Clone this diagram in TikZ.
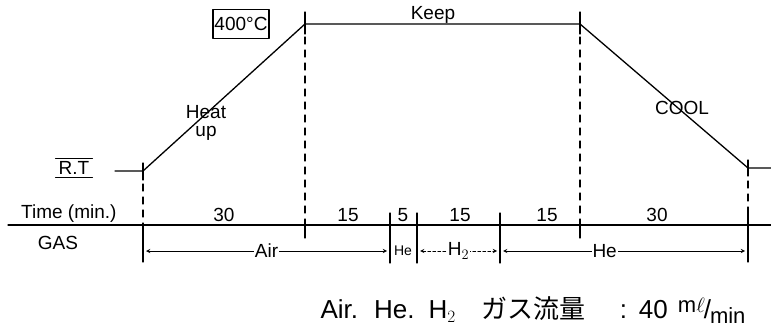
\documentclass[tikz,border=0pt]{standalone}
\usepackage{fontspec}
\setmainfont{Liberation Sans}
\newfontfamily\jpfont{Noto Sans CJK JP}
\usetikzlibrary{positioning}
\begin{document}
\begin{tikzpicture}[x=1pt, y=-1pt, line join=round, line cap=round, >=stealth]
				\useasboundingbox (0,0) rectangle (771,329);
				\tikzset{
					prof/.style={line width=1.3pt},
					guide/.style={line width=1.2pt, dash pattern=on 7pt off 6pt},
					tick/.style={line width=1.3pt},
					lbl/.style={font=\fontsize{19}{21}\selectfont, inner sep=1pt},
					gas/.style={line width=0.9pt, <->},
				}
				
				% Temperaturprofil
				\coordinate (RT0) at (115,171);
				\coordinate (A) at (143,171);
				\coordinate (B) at (305,24);
				\coordinate (C) at (580,24);
				\coordinate (D) at (748,168);
				\coordinate (E) at (771,168);
				\draw[prof] (RT0) -- (A) -- (B) -- (C) -- (D) -- (E);
				
				% Markierungen an den Knickpunkten
				\draw[tick] (143,163) -- (143,180);
				\draw[tick] (305,12) -- (305,34);
				\draw[tick] (580,12) -- (580,34);
				\draw[tick] (748,160) -- (748,176);
				
				% Beschriftungen
				\node[lbl, inner sep=3pt] (rt) at (74,168) {R.T};
				\draw[line width=1pt] (rt.north west) -- (rt.north east);
				\draw[line width=1pt] (rt.south west) -- (rt.south east);
				\node[lbl, draw, line width=1.1pt, minimum width=56pt, minimum height=29pt] (top) at (241,24) {400\textdegree C};
				\node[lbl, align=center, font=\fontsize{19}{18}\selectfont] (heat) at (206,123) {Heat\\up};
				\node[lbl] (keep) at (433,15) {Keep};
				\node[lbl] (cool) at (682,108) {COOL};
				
				% Zeitachse
				\coordinate (T0) at (8,225);
				\coordinate (T1) at (771,225);
				\draw[line width=1.3pt] (T0) -- (T1);
				\node[lbl, anchor=south west] (time) at (20,224) {Time (min.)};
				\node[lbl] (gasl) at (58,243) {GAS};
				
				% senkrechte Linien
				\foreach \x/\y in {143/171, 305/24, 580/24, 748/168}
					\draw[guide] (\x,\y) -- (\x,225);
				\draw[tick] (143,225) -- (143,262);
				\draw[tick] (305,225) -- (305,238);
				\draw[tick] (390,213) -- (390,263);
				\draw[tick] (417,213) -- (417,263);
				\draw[tick] (500,213) -- (500,263);
				\draw[tick] (580,225) -- (580,238);
				\draw[tick] (748,213) -- (748,262);
				
				% Zeiten
				\foreach \x/\t in {224/30, 348/15, 403/5, 460/15, 547/15, 657/30}
					\node[lbl, anchor=south] at (\x,223) {\t};
				
				% Gase
				\draw[gas] (146,251) -- (387,251) node[midway, fill=white, lbl] (air) {Air};
				\node[lbl, font=\fontsize{14}{16}\selectfont] (he1) at (403,251) {He};
				\draw[gas, densely dashed] (420,251) -- (497,251) node[midway, fill=white, lbl] (h2) {H$_2$};
				\draw[gas] (503,251) -- (745,251) node[pos=0.42, fill=white, lbl] (he2) {He};
				
				% Gasdurchfluss
				\node[font=\fontsize{26}{28}\selectfont] (flow) at (533,310)
					{Air.\hspace{16pt}He.\hspace{14pt}H$_2$\hspace{26pt}{\jpfont ガス流量}\hspace{34pt}:\hspace{12pt}40\hspace{10pt}\raisebox{6pt}{\fontsize{22}{24}\selectfont m$\ell$}\kern-1pt/\kern-1pt\raisebox{-5pt}{\fontsize{22}{24}\selectfont min}};
			\end{tikzpicture}
\end{document}
